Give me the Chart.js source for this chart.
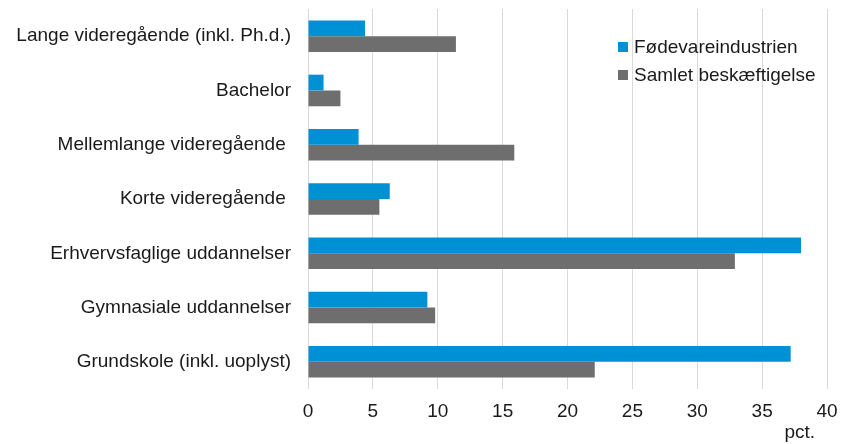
<!DOCTYPE html>
<html>
<head>
<meta charset="utf-8">
<script src="https://cdn.jsdelivr.net/npm/chart.js@4/dist/chart.umd.min.js"></script>
<style>
  html, body { margin: 0; padding: 0; background: #fff; }
  #wrap { width: 844px; height: 444px; }
</style>
</head>
<body>
<div id="wrap"><canvas id="c" width="844" height="444"></canvas></div>
<script>
const categories = [
  "Lange videregående (inkl. Ph.d.)",
  "Bachelor",
  "Mellemlange videregående ",
  "Korte videregående ",
  "Erhvervsfaglige uddannelser",
  "Gymnasiale uddannelser",
  "Grundskole (inkl. uoplyst)"
];
const seriesNames = ["Fødevareindustrien", "Samlet beskæftigelse"];
const foedevare = [4.4, 1.2, 3.9, 6.3, 38.0, 9.2, 37.2];
const samlet = [11.4, 2.5, 15.9, 5.5, 32.9, 9.8, 22.1];
const xTicks = [0, 5, 10, 15, 20, 25, 30, 35, 40];
const axisUnit = "pct.";

const FONT = "'Liberation Sans', Arial, sans-serif";
const FSIZE = 19;
const colors = ["#0091d5", "#6e6e6e"];

const legendPlugin = {
  id: 'customLegend',
  afterDraw(chart) {
    const ctx = chart.ctx;
    ctx.save();
    ctx.font = FSIZE + "px " + FONT;
    ctx.textBaseline = "middle";
    ctx.textAlign = "left";
    chart.data.datasets.forEach((ds, i) => {
      const y = 47 + i * 28;
      ctx.fillStyle = ds.backgroundColor;
      ctx.fillRect(618, y - 5, 10, 10);
      ctx.fillStyle = "#1a1a1a";
      ctx.fillText(ds.label, 634, y + 1);
    });
    ctx.textAlign = "right";
    ctx.fillText(axisUnit, 815, 433);
    ctx.restore();
  }
};

new Chart(document.getElementById('c'), {
  type: 'bar',
  data: {
    labels: categories,
    datasets: [
      { label: seriesNames[0], data: foedevare, backgroundColor: colors[0] },
      { label: seriesNames[1], data: samlet, backgroundColor: colors[1] }
    ]
  },
  options: {
    indexAxis: 'y',
    responsive: false,
    animation: false,
    devicePixelRatio: 1,
    categoryPercentage: 0.58,
    barPercentage: 1.0,
    layout: { padding: { top: 9, right: 17, bottom: 0, left: 0 } },
    plugins: {
      legend: { display: false },
      tooltip: { enabled: false }
    },
    scales: {
      x: {
        min: 0, max: 40,
        afterBuildTicks(scale) { scale.ticks = xTicks.map(v => ({ value: v })); },
        afterFit(scale) { scale.height = 55; },
        grid: { color: "#d9d9d9", lineWidth: 1, drawTicks: true, tickLength: 11, tickColor: "rgba(0,0,0,0)" },
        border: { display: false },
        ticks: { color: "#1a1a1a", font: { family: FONT, size: FSIZE }, padding: 0, maxRotation: 0 }
      },
      y: {
        afterFit(scale) { scale.width = 308; },
        grid: { display: true, drawOnChartArea: false, drawTicks: true, tickLength: 17, color: "rgba(0,0,0,0)", tickColor: "rgba(0,0,0,0)" },
        border: { display: false },
        ticks: { color: "#1a1a1a", font: { family: FONT, size: FSIZE, lineHeight: 0.8 }, padding: 0, autoSkip: false }
      }
    }
  },
  plugins: [legendPlugin]
});
</script>
</body>
</html>
